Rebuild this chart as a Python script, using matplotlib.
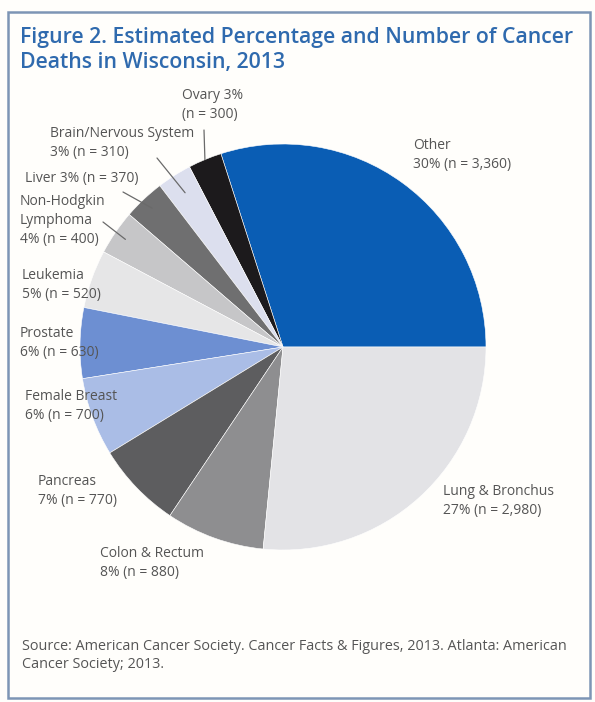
import numpy as np
import matplotlib.pyplot as plt
from matplotlib.patches import Rectangle

# Estimated cancer deaths in Wisconsin, 2013 (counter-clockwise from 3 o'clock)
sites = ["Other", "Ovary", "Brain/Nervous System", "Liver", "Non-Hodgkin Lymphoma",
         "Leukemia", "Prostate", "Female Breast", "Pancreas", "Colon & Rectum",
         "Lung & Bronchus"]
deaths = [3360, 300, 310, 370, 400, 520, 630, 700, 770, 880, 2980]
pcts = [30, 3, 3, 3, 4, 5, 6, 6, 7, 8, 27]
labels = ["Other\n30% (n = 3,360)",
          "Ovary 3%\n(n = 300)",
          "Brain/Nervous System\n3% (n = 310)",
          "Liver 3% (n = 370)",
          "Non-Hodgkin\nLymphoma\n4% (n = 400)",
          "Leukemia\n5% (n = 520)",
          "Prostate\n6% (n = 630)",
          "Female Breast\n6% (n = 700)",
          "Pancreas\n7% (n = 770)",
          "Colon & Rectum\n8% (n = 880)",
          "Lung & Bronchus\n27% (n = 2,980)"]

colors = ["#0a5db4", "#1c1a1c", "#dcdfee", "#6f6f70", "#c6c6c8", "#e6e6e7",
          "#6d8fd2", "#aabde6", "#5d5d5f", "#8e8e90", "#e3e3e6"]

W, H = 595, 702
fig = plt.figure(figsize=(W / 100, H / 100), dpi=100)
fig.patch.set_facecolor("#fffefb")


def fx(x, y):
    # pixel position (from top-left) -> figure fraction
    return x / W, 1 - y / H


# outer frame
fig.patches.append(Rectangle((8 / W, 1 - 698 / H), 582 / W, 686 / H,
                             transform=fig.transFigure, fill=False,
                             edgecolor="#7d95b5", linewidth=1.8))

title = "Figure 2. Estimated Percentage and Number of Cancer\nDeaths in Wisconsin, 2013"
fig.text(*fx(20, 27), title, ha="left", va="top", fontsize=15.3,
         fontweight="semibold", family="Open Sans", color="#2f6aae",
         linespacing=1.25)

# pie axes: centre (283, 347), radius 203 px
cx, cy, r = 283, 347, 203
ax = fig.add_axes([(cx - r) / W, (H - cy - r) / H, 2 * r / W, 2 * r / H])
wedges, _ = ax.pie(deaths, colors=colors, startangle=0, counterclock=True,
                   radius=1.0, wedgeprops=dict(edgecolor="white", linewidth=0.4))
ax.set_xlim(-1, 1)
ax.set_ylim(-1, 1)
ax.set_aspect("equal")
ax.axis("off")

# label anchors (top-left of text, pixels)
label_pos = [(413, 138), (182, 88), (50, 126), (25, 171), (20, 194),
             (22, 268), (20, 326), (25, 389), (38, 474), (100, 546), (443, 484)]

for lab, (x, y) in zip(labels, label_pos):
    fig.text(*fx(x, y), lab, ha="left", va="top", fontsize=10,
             family="Open Sans", color="#555555", linespacing=1.35)

# leader lines for the small slices
leaders = {1: ((204, 130), 1.0), 2: ((157, 158), 0.9),
           3: ((123, 192), 0.94), 4: ((103, 222), 0.94)}
for i, ((x, y), rr) in leaders.items():
    w = wedges[i]
    mid = np.deg2rad((w.theta1 + w.theta2) / 2)
    ax.annotate("", xy=(rr * np.cos(mid), rr * np.sin(mid)), xycoords="data",
                xytext=fx(x, y), textcoords="figure fraction",
                arrowprops=dict(arrowstyle="-", color="#6a6a6a", lw=0.9,
                                shrinkA=0, shrinkB=0))

src = ("Source: American Cancer Society. Cancer Facts & Figures, 2013. Atlanta: American\n"
       "Cancer Society; 2013.")
fig.text(*fx(22, 639), src, ha="left", va="top", fontsize=10.4,
         family="Open Sans", color="#555555", linespacing=1.25)

fig.savefig("out.png", dpi=100, facecolor=fig.get_facecolor())
